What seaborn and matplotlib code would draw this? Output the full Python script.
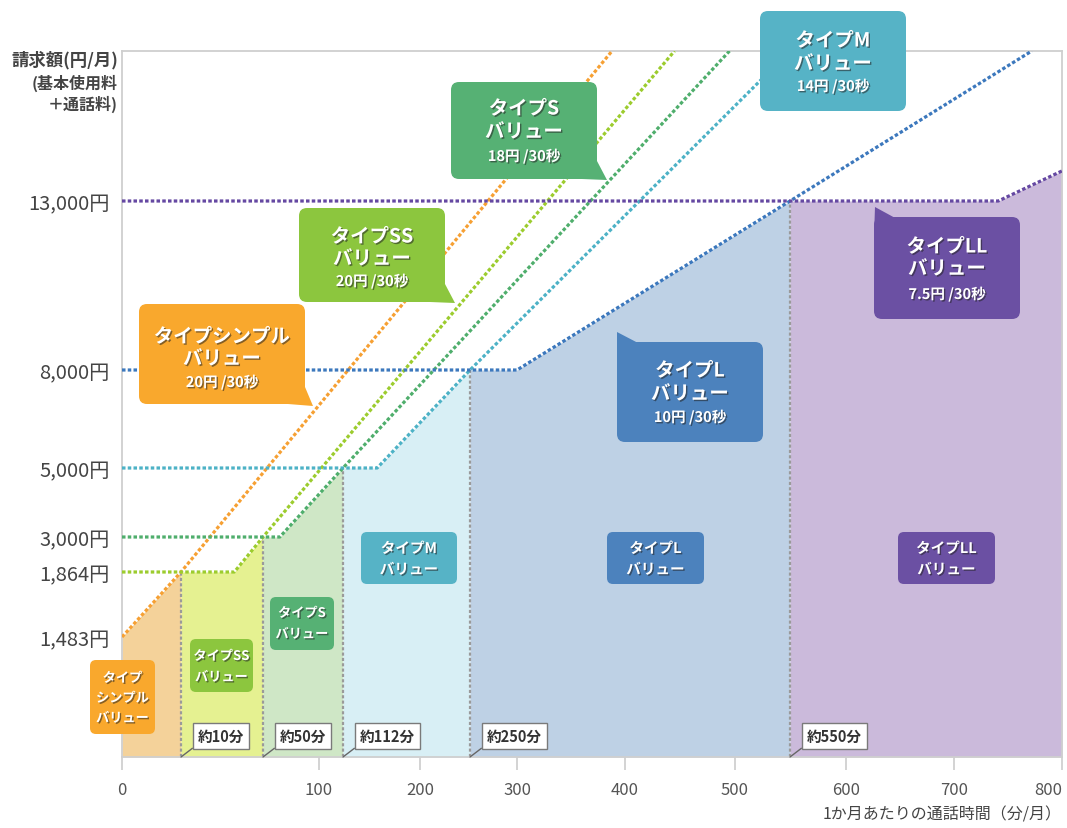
import numpy as np
import matplotlib.pyplot as plt
import matplotlib.patches as mpatches
import matplotlib.patheffects as pe
import matplotlib.transforms as mtransforms
import seaborn as sns

# ---- values ----
x_ticks = [0, 100, 200, 300, 400, 500, 600, 700, 800]
y_ticks = [1483, 1864, 3000, 5000, 8000, 13000]
breakpoints = [10, 50, 112, 250, 550]          # 約○分
region_start = [0, 10, 50, 112, 250, 550]
region_end = [10, 50, 112, 250, 550, 800]

# plan price lines (minutes / month, yen / month)
simple_x = [0, 10, 388]
simple_y = [1483, 1864, 17440]
ss_x = [0, 36, 50, 445]
ss_y = [1864, 1864, 3000, 17440]
s_x = [0, 65, 112, 495]
s_y = [3000, 3000, 5000, 17440]
m_x = [0, 151, 250, 550]
m_y = [5000, 5000, 8000, 17440]
l_x = [0, 300, 550, 772]
l_y = [8000, 8000, 13000, 17440]
ll_x = [0, 741, 800]
ll_y = [13000, 13000, 13890]

plan_names = ["タイプシンプル", "タイプSS", "タイプS", "タイプM", "タイプL", "タイプLL"]
rates = ["20円 /30秒", "20円 /30秒", "18円 /30秒", "14円 /30秒", "10円 /30秒", "7.5円 /30秒"]

line_colors = ["#f6a033", "#9ccc2e", "#4fae6c", "#4db2c6", "#3c78bd", "#6548a2"]
fill_colors = ["#f4d29a", "#e5f191", "#cfe7c6", "#d8eff5", "#bed1e5", "#cbbadb"]
box_colors = ["#f9a82d", "#8cc63e", "#56b174", "#56b3c6", "#4c82bd", "#6b50a3"]

# the chart's axes are schematic (piecewise), knots in data units -> pixels
X_DATA = [0, 10, 50, 100, 112, 200, 250, 300, 400, 500, 550, 600, 700, 800]
X_PIX = [0, 59, 141, 197, 221, 298, 348, 395, 503, 613, 668, 724, 832, 940]
Y_DATA = [0, 1483, 1864, 3000, 5000, 8000, 13000, 17440]
Y_PIX = [0, 120, 185, 220, 289, 387, 556, 706]


def interp_func(xp, fp):
    return lambda v: np.interp(v, xp, fp)


sns.set_theme(style="white")
plt.rcParams['font.family'] = ['Noto Sans CJK JP', 'DejaVu Sans']

fig = plt.figure(figsize=(10.67, 8.29), dpi=100)
ax = fig.add_axes([122 / 1067, 1 - 758 / 829, 940 / 1067, 706 / 829])
ax.set_xscale('function', functions=(interp_func(X_DATA, X_PIX), interp_func(X_PIX, X_DATA)))
ax.set_yscale('function', functions=(interp_func(Y_DATA, Y_PIX), interp_func(Y_PIX, Y_DATA)))
ax.set_xlim(0, 800)
ax.set_ylim(0, 17440)

# reference-pixel coordinates (origin top-left) for the label boxes
REF = mtransforms.Affine2D().scale(1 / 100, -1 / 100).translate(0, 8.29) + fig.dpi_scale_trans
SHADOW = [pe.withSimplePatchShadow(offset=(1, -1), shadow_rgbFace='#222', alpha=0.55)]

plan_lines = [(simple_x, simple_y), (ss_x, ss_y), (s_x, s_y), (m_x, m_y), (l_x, l_y), (ll_x, ll_y)]

# filled areas: cheapest plan in each range
for (lx, ly), x0, x1, fc in zip(plan_lines, region_start, region_end, fill_colors):
    xs = np.array([x0] + [v for v in lx if x0 < v < x1] + [x1], dtype=float)
    ys = np.interp(xs, lx, ly)
    ax.fill_between(xs, 0, ys, color=fc, lw=0, zorder=1)

# dividers
for b, (lx, ly) in zip(breakpoints, plan_lines[1:]):
    ax.plot([b, b], [0, np.interp(b, lx, ly)], color='#9a9a9a', lw=1.6,
            linestyle=(0, (1.4, 1.0)), zorder=2)

# price lines
for (lx, ly), c in zip(plan_lines, line_colors):
    sns.lineplot(x=lx, y=ly, ax=ax, color=c, lw=2.3, linestyle=(0, (1.1, 0.7)),
                 dash_capstyle='butt', zorder=3)


def label_box(x0, y0, x1, y1, color, lines, sizes, ys, tail=None, r=8, z=5):
    ax.add_patch(mpatches.FancyBboxPatch((x0 + r, y0 + r), x1 - x0 - 2 * r, y1 - y0 - 2 * r,
                                         boxstyle=f"round,pad={r},rounding_size={r}",
                                         transform=REF, fc=color, ec='none', clip_on=False, zorder=z))
    if tail:
        ax.add_patch(mpatches.Polygon(tail, closed=True, transform=REF, fc=color, ec='none',
                                      clip_on=False, zorder=z))
    cx = (x0 + x1) / 2
    for t, s, y in zip(lines, sizes, ys):
        ax.text(cx, y, t, transform=REF, ha='center', va='center', fontsize=s, fontweight='bold',
                color='white', path_effects=SHADOW, zorder=z + 1, clip_on=False)


# upper callouts with rates
big = [14, 14, 10.5]
upper = [
    ((139, 305, 305, 405), [(288, 405), (313, 407), (305, 388)], (338, 360, 383)),
    ((299, 209, 445, 303), [(430, 303), (455, 304), (445, 285)], (238, 260, 282)),
    ((451, 83, 597, 180), [(582, 180), (607, 181), (597, 162)], (110, 133, 157)),
    ((760, 12, 906, 112), None, (42, 65, 87)),
    ((617, 343, 763, 443), [(617, 362), (617, 333), (640, 345)], (372, 395, 418)),
    ((874, 218, 1020, 320), [(874, 238), (875, 208), (897, 220)], (248, 270, 295)),
]
for (box, tail, ys), name, rate, col in zip(upper, plan_names, rates, box_colors):
    label_box(*box, col, [name, "バリュー", rate], big, ys, tail=tail, r=8, z=7)

# lower labels inside each area
label_box(90, 661, 155, 735, box_colors[0], ["タイプ", "シンプル", "バリュー"], [9.5, 9.5, 9.5],
          (679, 699, 719), r=6, z=5)
lower = [
    ((190, 640, 253, 693), (657, 678), 9.5),
    ((270, 598, 334, 651), (614, 635), 9.5),
    ((361, 533, 457, 585), (549, 570), 10.5),
    ((607, 533, 704, 585), (549, 570), 10.5),
    ((898, 533, 995, 585), (549, 570), 10.5),
]
for (box, ys, fs), name, col in zip(lower, plan_names[1:], box_colors[1:]):
    label_box(*box, col, [name, "バリュー"], [fs, fs], ys, r=6, z=5)

# minute markers
for b in breakpoints:
    ax.annotate(f"約{b}分", xy=(b, 0), xytext=(17, 21), textcoords='offset pixels',
                ha='left', va='center', fontsize=10.5, fontweight='bold', color='#333333',
                bbox=dict(boxstyle='square,pad=0.35', fc='white', ec='#7a7a7a', lw=1),
                arrowprops=dict(arrowstyle='-', color='#666666', lw=1, relpos=(0, 0),
                                shrinkA=0, shrinkB=0),
                zorder=6)

# axes styling
ax.set_xticks(x_ticks)
ax.set_xticklabels([str(v) for v in x_ticks])
ax.get_xticklabels()[-1].set_horizontalalignment('right')
ax.set_yticks(y_ticks)
ax.set_yticklabels([f"{v:,}円" for v in y_ticks])
ax.tick_params(axis='x', direction='out', length=9, width=1.2, color='#cccccc',
               labelsize=12, labelcolor='#555555', pad=8, bottom=True)
ax.tick_params(axis='y', length=0, labelsize=14.5, labelcolor='#444444', pad=9)
for sp in ax.spines.values():
    sp.set_color('#cfcfcf')
    sp.set_linewidth(1.3)
ax.set_xlabel("")
ax.set_ylabel("")

ax.text(118, 60, "請求額(円/月)", transform=REF, ha='right', va='center', fontsize=12.5,
        fontweight='bold', color='#444444')
ax.text(118, 83, "(基本使用料", transform=REF, ha='right', va='center', fontsize=11.5,
        fontweight='bold', color='#444444')
ax.text(118, 104, "＋通話料)", transform=REF, ha='right', va='center', fontsize=11.5,
        fontweight='bold', color='#444444')
ax.text(1062, 815, "1か月あたりの通話時間（分/月）", transform=REF, ha='right', va='center',
        fontsize=11.5, color='#444444')

fig.savefig("out.png", dpi=100)
